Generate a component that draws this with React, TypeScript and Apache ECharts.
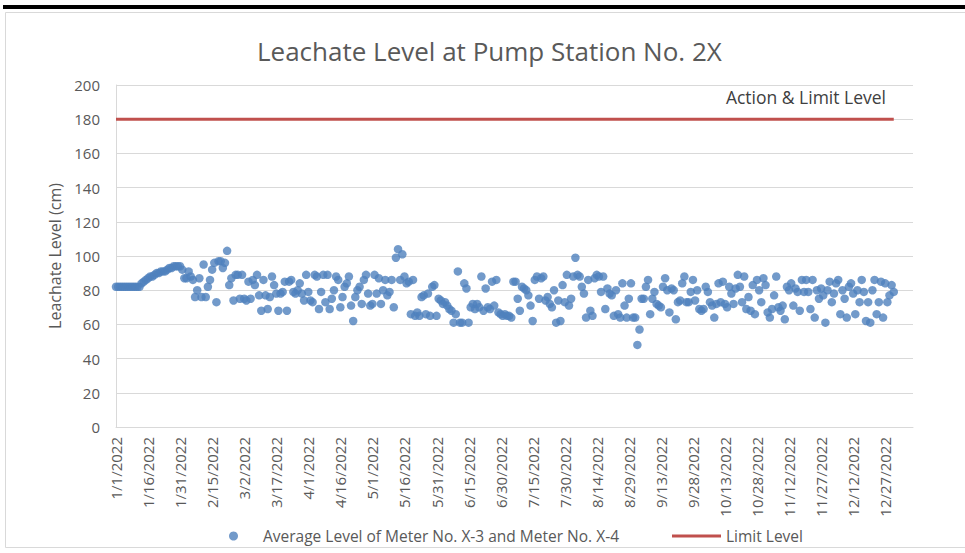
import React, { useEffect, useRef } from "react";
import * as echarts from "echarts";

const YEAR = 2022;
const titleText = "Leachate Level at Pump Station No. 2X";
const yAxisName = "Leachate Level (cm)";
const seriesName = "Average Level of Meter No. X-3 and Meter No. X-4";
const limitName = "Limit Level";
const limitAnnotation = "Action & Limit Level";
const limitLevel = 180;

// daily average levels (cm)
const jan = [82, 82, 82, 82, 82, 82, 82, 82, 82, 82, 82, 82, 84, 85, 86, 87, 88, 88, 89, 90, 90, 91, 91, 91, 92, 93, 93, 94, 94, 94, 94];
const feb = [92, 87, 87, 91, 88, 86, 76, 80, 87, 76, 95, 76, 82, 86, 92, 96, 73, 97, 97, 93, 96, 103, 83, 87, 74, 89, 89, 75];
const mar = [89, 75, 74, 85, 75, 86, 83, 89, 77, 68, 86, 77, 69, 76, 88, 83, 78, 68, 78, 79, 85, 68, 85, 86, 79, 78, 80, 84, 78, 74, 89];
const apr = [79, 74, 73, 89, 88, 69, 79, 89, 73, 89, 69, 75, 80, 88, 86, 70, 76, 82, 84, 88, 71, 62, 76, 80, 82, 72, 86, 89, 78, 71];
const may = [72, 89, 78, 87, 72, 80, 86, 77, 79, 86, 70, 99, 104, 86, 101, 88, 84, 85, 66, 86, 65, 67, 65, 76, 77, 66, 78, 65, 82, 83, 65];
const jun = [75, 74, 72, 73, 71, 69, 68, 61, 66, 91, 61, 61, 84, 81, 61, 70, 72, 69, 72, 70, 88, 68, 81, 70, 69, 85, 71, 86, 67, 66];
const jul = [65, 66, 65, 65, 64, 85, 85, 75, 68, 82, 81, 80, 77, 71, 62, 86, 88, 75, 87, 88, 74, 76, 72, 70, 80, 61, 74, 62, 83, 73, 89];
const aug = [71, 75, 88, 99, 89, 88, 82, 78, 64, 86, 68, 65, 87, 89, 88, 79, 88, 69, 81, 78, 77, 65, 80, 66, 64, 84, 71, 64, 75, 84, 64];
const sep = [64, 48, 57, 75, 75, 82, 86, 66, 75, 79, 72, 71, 70, 82, 87, 80, 67, 81, 80, 63, 73, 74, 84, 88, 73, 73, 79, 86, 74, 80];
const oct = [69, 68, 69, 82, 79, 73, 71, 64, 72, 84, 73, 85, 72, 70, 82, 78, 72, 81, 89, 82, 73, 88, 69, 76, 68, 83, 66, 86, 80, 73, 87];
const nov = [83, 67, 64, 69, 77, 88, 70, 68, 71, 63, 82, 80, 84, 71, 81, 79, 68, 86, 79, 86, 79, 69, 86, 64, 80, 75, 81, 77, 61, 80];
const dec = [85, 73, 78, 84, 86, 66, 80, 75, 64, 82, 84, 78, 66, 80, 73, 86, 79, 62, 73, 61, 80, 86, 66, 73, 85, 64, 84, 73, 77, 83, 79];

const months = [jan, feb, mar, apr, may, jun, jul, aug, sep, oct, nov, dec];
const levels: number[] = months.flat();

const X_LABEL_STEP = 15; // days between date labels
const X_AXIS_MAX = 373; // axis extends past Dec 31
const Y_MAX = 200;
const Y_STEP = 20;

function dayLabel(d: number): string {
  const dt = new Date(YEAR, 0, 1 + d);
  return `${dt.getMonth() + 1}/${dt.getDate()}/${dt.getFullYear()}`;
}

export default function App() {
  const ref = useRef<HTMLDivElement>(null);
  useEffect(() => {
    document.body.style.margin = "0";
    if (!ref.current) return;
    const chart = echarts.init(ref.current, null, { renderer: "svg" });
    const font = "Open Sans";
    const grey = "#595959";
    const lastDay = levels.length - 1;
    chart.setOption({
      animation: false,
      textStyle: { fontFamily: font },
      title: {
        text: titleText,
        left: 252,
        top: 33,
        textStyle: { fontFamily: font, fontSize: 26, fontWeight: "normal", color: grey },
      },
      grid: { left: 116, right: 52, top: 85, bottom: 126, containLabel: false },
      xAxis: {
        type: "value",
        min: 0,
        max: X_AXIS_MAX,
        interval: X_LABEL_STEP,
        axisLine: { show: true, lineStyle: { color: "#D9D9D9", width: 1 } },
        axisTick: { show: false },
        splitLine: { show: false },
        axisLabel: {
          rotate: 90,
          fontSize: 15,
          color: grey,
          margin: 10,
          showMaxLabel: false,
          formatter: (v: number) => (v % X_LABEL_STEP === 0 ? dayLabel(v) : ""),
        },
      },
      yAxis: {
        type: "value",
        min: 0,
        max: Y_MAX,
        interval: Y_STEP,
        name: yAxisName,
        nameLocation: "middle",
        nameGap: 50,
        nameTextStyle: { fontSize: 16, color: grey, fontFamily: font },
        axisLine: { show: true, lineStyle: { color: "#D9D9D9", width: 1 } },
        axisTick: { show: false },
        splitLine: { show: true, lineStyle: { color: "#D9D9D9", width: 1 } },
        axisLabel: { fontSize: 15, color: grey, margin: 16 },
      },
      legend: [
        {
          data: [seriesName],
          left: 229,
          top: 528,
          padding: 0,
          icon: "circle",
          itemWidth: 9,
          itemHeight: 9,
          textStyle: { fontSize: 15.5, color: grey, fontFamily: font, padding: [0, 0, 0, 20] },
        },
        {
          data: [limitName],
          left: 672,
          top: 528,
          padding: 0,
          icon: "rect",
          itemWidth: 49,
          itemHeight: 3,
          textStyle: { fontSize: 15.5, color: grey, fontFamily: font },
        },
      ],
      series: [
        {
          name: seriesName,
          type: "scatter",
          symbol: "circle",
          symbolSize: 8.5,
          itemStyle: { color: "#4F81BD" },
          data: levels.map((v, i) => [i, v]),
          z: 3,
        },
        {
          name: limitName,
          type: "line",
          symbol: "none",
          lineStyle: { color: "#C0504D", width: 3 },
          itemStyle: { color: "#C0504D" },
          data: [
            [0, limitLevel],
            [lastDay, limitLevel],
          ],
          z: 2,
        },
      ],
      graphic: [
        {
          type: "rect",
          silent: true,
          shape: { x: 5.5, y: 12.5, width: 975, height: 535 },
          style: { fill: "none", stroke: "#D9D9D9", lineWidth: 1 },
        },
        {
          type: "rect",
          silent: true,
          shape: { x: 3, y: 5, width: 965, height: 4 },
          style: { fill: "#000000" },
        },
        {
          type: "text",
          silent: true,
          x: 886,
          y: 97,
          style: {
            text: limitAnnotation,
            fontFamily: font,
            fontSize: 17.5,
            fill: "#404040",
            textAlign: "right",
            textVerticalAlign: "middle",
          },
        },
      ],
    });
    return () => chart.dispose();
  }, []);
  return <div ref={ref} style={{ width: 965, height: 553 }} />;
}
